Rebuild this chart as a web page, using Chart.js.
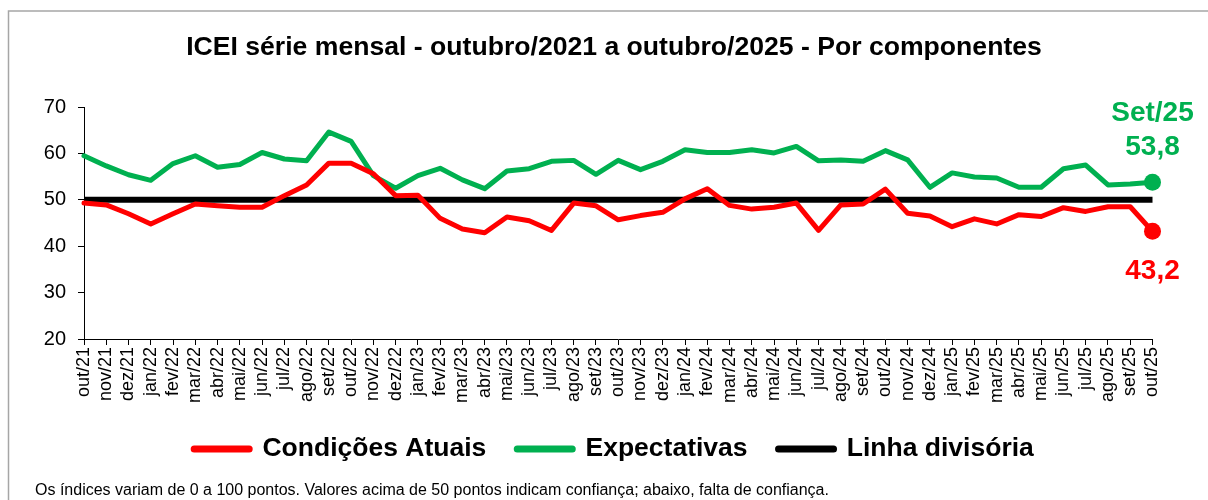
<!DOCTYPE html>
<html>
<head>
<meta charset="utf-8">
<script src="https://cdn.jsdelivr.net/npm/chart.js@4"></script>
<style>
  html, body { margin: 0; padding: 0; background: #ffffff; }
  #wrap { width: 1208px; height: 500px; position: relative; }
</style>
</head>
<body>
<div id="wrap"><canvas id="icei_graph"></canvas></div>
<script>
var labels = ['out/21','nov/21','dez/21','jan/22','fev/22','mar/22','abr/22','mai/22','jun/22','jul/22','ago/22','set/22',
    'out/22','nov/22','dez/22','jan/23','fev/23','mar/23','abr/23','mai/23','jun/23','jul/23','ago/23','set/23',
    'out/23','nov/23','dez/23','jan/24','fev/24','mar/24','abr/24','mai/24','jun/24','jul/24','ago/24','set/24',
    'out/24','nov/24','dez/24','jan/25','fev/25','mar/25','abr/25','mai/25','jun/25','jul/25','ago/25','set/25','out/25'];

var condicoes = [49.3, 48.9, 47.0, 44.8, 47.0, 49.1, 48.7, 48.4, 48.4, 50.9, 53.2, 57.9,
    57.9, 55.6, 50.9, 51.0, 46.0, 43.7, 42.9, 46.3, 45.5, 43.4, 49.3, 48.7,
    45.7, 46.6, 47.3, 50.2, 52.4, 48.8, 48.0, 48.4, 49.3, 43.4, 48.9, 49.1,
    52.3, 47.1, 46.5, 44.2, 45.9, 44.8, 46.8, 46.4, 48.3, 47.5, 48.5, 48.5, 43.2];

var expectativas = [59.5, 57.3, 55.4, 54.2, 57.8, 59.5, 57.0, 57.6, 60.2, 58.8, 58.4, 64.6,
    62.6, 55.2, 52.5, 55.2, 56.8, 54.3, 52.4, 56.2, 56.7, 58.3, 58.5, 55.5,
    58.5, 56.5, 58.3, 60.8, 60.2, 60.2, 60.8, 60.1, 61.5, 58.4, 58.6, 58.3,
    60.6, 58.6, 52.7, 55.8, 54.9, 54.7, 52.7, 52.7, 56.7, 57.5, 53.2, 53.4, 53.8];

var linha = [50, 50, 50, 50, 50, 50, 50, 50, 50, 50, 50, 50,
    50, 50, 50, 50, 50, 50, 50, 50, 50, 50, 50, 50,
    50, 50, 50, 50, 50, 50, 50, 50, 50, 50, 50, 50,
    50, 50, 50, 50, 50, 50, 50, 50, 50, 50, 50, 50, 50];

var y_ticks = [20, 30, 40, 50, 60, 70];
var last_label = 'Set/25';
var footnote = 'Os índices variam de 0 a 100 pontos. Valores acima de 50 pontos indicam confiança; abaixo, falta de confiança.';

var RED = '#ff0000';
var GREEN = '#00b050';
var FONT = "'Liberation Sans', Arial, Helvetica, sans-serif";

function lastPointOnly(n, r){
    var out = [];
    for(var i=0; i<n; i++){ out.push(i == n-1 ? r : 0); }
    return out;
}

//frame, footnote and the end-of-series labels
var extras = {
    id: 'extras',
    beforeDraw: function(chart){
        var ctx = chart.ctx;
        ctx.save();
        ctx.fillStyle = '#ffffff';
        ctx.fillRect(0, 0, chart.width, chart.height);
        ctx.strokeStyle = '#a6a6a6';
        ctx.lineWidth = 1.5;
        ctx.beginPath();
        ctx.moveTo(8.5, chart.height);
        ctx.lineTo(8.5, 11);
        ctx.lineTo(chart.width, 11);
        ctx.stroke();
        ctx.restore();
    },
    afterDraw: function(chart){
        var ctx = chart.ctx;
        ctx.save();
        ctx.fillStyle = '#000000';
        ctx.font = '16px ' + FONT;
        ctx.textAlign = 'left';
        ctx.textBaseline = 'middle';
        ctx.fillText(footnote, 35, 491);

        var red_pt = chart.getDatasetMeta(0).data[condicoes.length-1];
        var green_pt = chart.getDatasetMeta(1).data[expectativas.length-1];
        ctx.font = 'bold 28px ' + FONT;
        ctx.textAlign = 'center';
        ctx.textBaseline = 'alphabetic';
        ctx.fillStyle = GREEN;
        ctx.fillText(last_label, green_pt.x, green_pt.y - 61);
        ctx.fillText(expectativas[expectativas.length-1].toFixed(1).replace('.', ','), green_pt.x, green_pt.y - 27);
        ctx.fillStyle = RED;
        ctx.fillText(condicoes[condicoes.length-1].toFixed(1).replace('.', ','), red_pt.x, red_pt.y + 48);
        ctx.restore();
    }
};

var chart = new Chart(document.getElementById('icei_graph').getContext('2d'), {
    type: 'line',
    data: {
        labels: labels,
        datasets: [{
            label: 'Condições Atuais',
            data: condicoes,
            borderColor: RED,
            backgroundColor: RED,
            borderWidth: 5,
            borderCapStyle: 'round',
            borderJoinStyle: 'round',
            pointRadius: lastPointOnly(condicoes.length, 8.5),
            pointBackgroundColor: RED,
            pointBorderWidth: 0,
            tension: 0
        },{
            label: 'Expectativas',
            data: expectativas,
            borderColor: GREEN,
            backgroundColor: GREEN,
            borderWidth: 5,
            borderCapStyle: 'round',
            borderJoinStyle: 'round',
            pointRadius: lastPointOnly(expectativas.length, 8.5),
            pointBackgroundColor: GREEN,
            pointBorderWidth: 0,
            tension: 0
        },{
            label: 'Linha divisória',
            data: linha,
            borderColor: '#000000',
            backgroundColor: '#000000',
            borderWidth: 6,
            borderCapStyle: 'butt',
            pointRadius: 0,
            tension: 0
        }]
    },
    options: {
        responsive: true,
        maintainAspectRatio: false,
        animation: false,
        layout: {
            padding: { left: 20, right: 0, top: 0, bottom: 27.75 }
        },
        scales: {
            x: {
                offset: false,
                afterFit: function(scale){ scale.height = 65.75; },
                grid: {
                    drawOnChartArea: false,
                    drawTicks: true,
                    tickLength: 6,
                    color: '#000000',
                    offset: false
                },
                border: { display: true, color: '#000000', width: 1 },
                ticks: {
                    autoSkip: false,
                    minRotation: 90,
                    maxRotation: 90,
                    padding: 2,
                    color: '#000000',
                    font: { family: FONT, size: 18 }
                }
            },
            y: {
                min: 20,
                max: 70,
                afterFit: function(scale){ scale.width = 64; },
                afterBuildTicks: function(scale){
                    scale.ticks = y_ticks.map(function(v){ return {value: v}; });
                },
                grid: {
                    drawOnChartArea: false,
                    drawTicks: true,
                    tickLength: 6,
                    color: '#000000'
                },
                border: { display: true, color: '#000000', width: 1 },
                ticks: {
                    padding: 12,
                    color: '#000000',
                    font: { family: FONT, size: 20 }
                }
            },
            //empty right-hand gutter for the end labels
            y_right: {
                position: 'right',
                min: 20,
                max: 70,
                afterFit: function(scale){ scale.width = 55.5; },
                grid: { display: false },
                border: { display: false },
                ticks: { display: false }
            }
        },
        plugins: {
            title: {
                display: true,
                text: 'ICEI série mensal - outubro/2021 a outubro/2025 - Por componentes',
                color: '#000000',
                font: { family: FONT, size: 26.6, weight: 'bold', lineHeight: 1.2 },
                padding: { top: 32, bottom: 43.1 }
            },
            legend: {
                position: 'bottom',
                labels: {
                    color: '#000000',
                    usePointStyle: true,
                    pointStyle: 'line',
                    pointStyleWidth: 55,
                    padding: 31,
                    font: { family: FONT, size: 26.5, weight: 'bold' },
                    generateLabels: function(chart){
                        var items = Chart.defaults.plugins.legend.labels.generateLabels(chart);
                        items.forEach(function(item){
                            var ds = chart.data.datasets[item.datasetIndex];
                            item.strokeStyle = ds.borderColor;
                            item.lineWidth = 7;
                            item.lineCap = 'round';
                        });
                        return items;
                    }
                }
            },
            tooltip: { enabled: false }
        }
    },
    plugins: [extras]
});
</script>
</body>
</html>
